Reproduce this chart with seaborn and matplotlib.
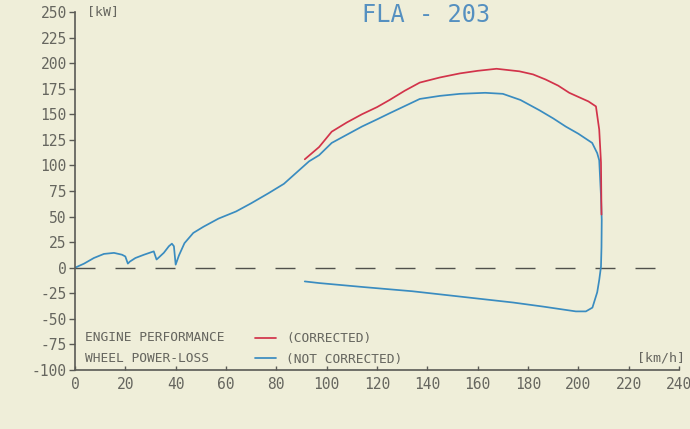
import matplotlib
matplotlib.use("Agg")
import matplotlib.pyplot as plt
import seaborn as sns
import pandas as pd

# ---- data ----
# Wheel power, not corrected: run-up (upper) followed by coast-down power-loss (lower)
blue_speed = [0, 3.6, 7.5, 11.5, 15.5, 18.7, 20, 21, 21.8, 24, 27.4, 31.3, 32.4, 33.3,
              35.3, 37.3, 38.5, 39.3, 40, 41.3, 43.5, 47, 51, 57, 64, 70, 77, 83, 88,
              93, 97, 102, 108, 114, 120, 125, 131, 137, 145, 153, 163, 170, 177,
              184.5, 190, 195, 200, 205.5, 207.5, 208.3, 209, 209.3,
              209.2, 209, 208.3, 207.5, 205.6, 203, 199, 186, 174, 154, 134, 115, 97, 91.3]
blue_power = [0, 4, 9.5, 13.5, 14.5, 12.7, 11, 4, 6, 9.5, 12.7, 16, 8, 10,
              14.6, 21, 23.5, 21, 3, 12, 24, 34, 40, 48, 55, 63, 73, 82, 93,
              104, 110, 122, 130, 138, 145, 151, 158, 165, 168, 170, 171, 170, 164,
              154, 146, 138, 131, 122, 112, 105, 70, 47,
              20, 1, -12, -24, -39, -42.7, -42.7, -38, -34, -28.5, -23, -19, -15, -13.4]

# Engine performance, corrected
red_speed = [91.3, 97, 102, 108, 114, 120, 125, 131, 137, 145, 153, 160, 167.5,
             176.6, 182, 187, 192, 196.4, 200, 204, 207, 208.3, 209, 209.2]
red_power = [106, 118, 133, 142, 150, 157, 164, 173, 181, 186, 190, 192.5, 194.5,
             192, 189, 184, 178, 171, 167, 162.6, 157.7, 135, 103, 52]

zero_speed = [0, 232]
zero_power = [0, 0]

x_ticks = [0, 20, 40, 60, 80, 100, 120, 140, 160, 180, 200, 220, 240]
y_ticks = [-100, -75, -50, -25, 0, 25, 50, 75, 100, 125, 150, 175, 200, 225, 250]

title_text = "FLA - 203"
y_unit = "[kW]"
x_unit = "[km/h]"
row_labels = ["ENGINE PERFORMANCE", "WHEEL POWER-LOSS"]
legend_labels = ["(CORRECTED)", "(NOT CORRECTED)"]

# ---- style ----
sns.set_style("ticks")
plt.rcParams["font.family"] = ["DejaVu Sans Mono"]
plt.rcParams["lines.scale_dashes"] = False
plt.rcParams["axes.unicode_minus"] = False

BG = "#efeed9"
RED = "#d2334a"
BLUE = "#3a8cc0"
AX = "#5a5a55"
TXT = "#66665f"

fig = plt.figure(figsize=(6.9, 4.29), dpi=100, facecolor=BG)
ax = fig.add_axes([75 / 690, 1 - 370 / 429, (679 - 75) / 690, (370 - 12) / 429])
ax.set_facecolor(BG)

blue_df = pd.DataFrame({"speed": blue_speed, "power": blue_power})
red_df = pd.DataFrame({"speed": red_speed, "power": red_power})
zero_df = pd.DataFrame({"speed": zero_speed, "power": zero_power})

sns.lineplot(data=zero_df, x="speed", y="power", ax=ax, color="#50504b",
             linewidth=1.0, sort=False, estimator=None)
ax.lines[-1].set_dashes((14.4, 14.4))
sns.lineplot(data=blue_df, x="speed", y="power", ax=ax, color=BLUE,
             linewidth=1.25, sort=False, estimator=None)
blue_line = ax.lines[-1]
sns.lineplot(data=red_df, x="speed", y="power", ax=ax, color=RED,
             linewidth=1.25, sort=False, estimator=None)
red_line = ax.lines[-1]

ax.set_xlim(0, 240)
ax.set_ylim(-100, 250)
ax.set_xticks(x_ticks)
ax.set_yticks(y_ticks)
ax.set_xlabel("")
ax.set_ylabel("")

for s in ["top", "right"]:
    ax.spines[s].set_visible(False)
for s in ["left", "bottom"]:
    ax.spines[s].set_color(AX)
    ax.spines[s].set_linewidth(1.2)

ax.tick_params(axis="y", direction="out", length=4, width=1.0, color=AX,
               labelsize=10.5, labelcolor=TXT, pad=2)
ax.tick_params(axis="x", direction="in", length=3, width=1.0, color=AX,
               labelsize=10.5, labelcolor=TXT, pad=5)

# units
ax.text(4.8, 250, y_unit, fontsize=9.5, color=TXT, ha="left", va="center")
ax.text(223.4, -88, x_unit, fontsize=9.5, color=TXT, ha="left", va="center",
        clip_on=False)

# title
fig.text(426 / 690, 1 - 15 / 429, title_text, fontsize=17, color="#5590c0",
         ha="center", va="center")

# legend block
ax.text(4, -68.4, row_labels[0], fontsize=9.3, color=TXT, ha="left", va="center")
ax.text(4, -89, row_labels[1], fontsize=9.3, color=TXT, ha="left", va="center")
leg = ax.legend([red_line, blue_line], legend_labels, loc="center left",
                bbox_to_anchor=(255 / 690, 1 - 349 / 429),
                bbox_transform=fig.transFigure, frameon=False, fontsize=9.3,
                handlelength=1.6, handletextpad=0.8, labelspacing=0.55,
                borderpad=0, borderaxespad=0)
for t in leg.get_texts():
    t.set_color(TXT)

fig.savefig("out.png", dpi=100, facecolor=BG)
